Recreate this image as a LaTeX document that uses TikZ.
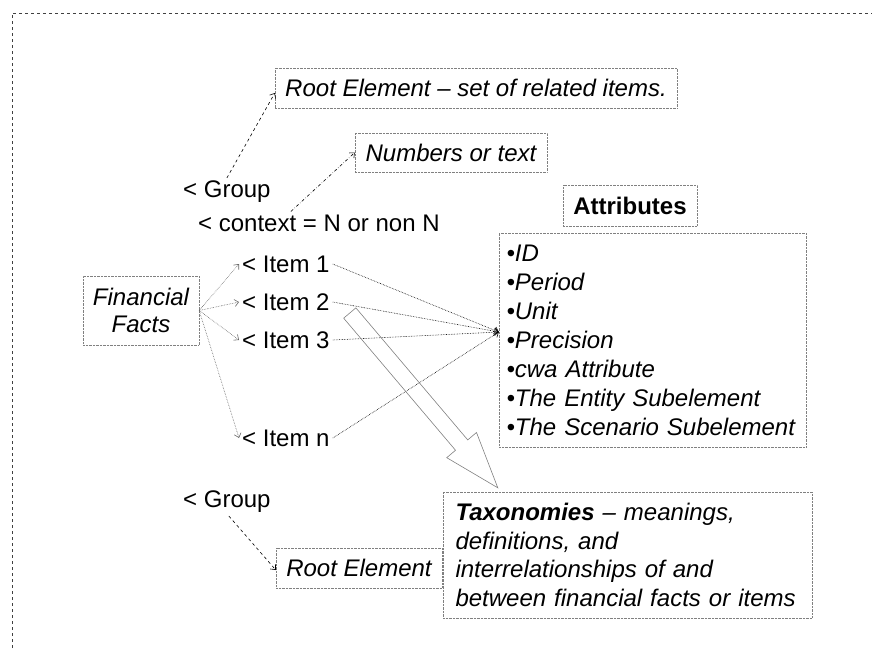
\documentclass[tikz,border=0pt]{standalone}
\usepackage{fontspec}
\setmainfont{Liberation Sans}
\usetikzlibrary{arrows.meta,calc,positioning}
\begin{document}
\begin{tikzpicture}[x=1pt,y=-1pt,>={Straight Barb[length=4pt,width=7pt]},font=\fontsize{24}{29}\selectfont,
  box/.style={draw=gray,densely dotted,inner sep=0pt,font=\fontsize{24}{29}\selectfont\itshape},
  lbl/.style={inner sep=3pt,anchor=west},
  fact/.style={->,draw=gray!80!black,densely dotted,line width=0.6pt},
  attr/.style={->,densely dotted,line width=0.6pt},
  grp/.style={->,dashed,line width=0.6pt}]
\path[use as bounding box] (0,0) rectangle (872,649);
\draw[dashed,draw=black!75,line width=0.8pt] (12,660) -- (12,13) -- (880,13);
\node[box,minimum width=402pt,minimum height=40pt] (rootA) at (476,88) {Root Element -- set of related items.};
\node[box,minimum width=192pt,minimum height=39pt] (numbers) at (451,152.5) {Numbers or text};
\node[lbl] (groupA) at (180,192) {< Group};
\node[lbl] (context) at (195,223) {< context = N or non N};
\node[box,font=\fontsize{24}{29}\selectfont\bfseries,minimum width=134pt,minimum height=41pt] (attrhead) at (630,205.5) {Attributes};
\node[box,text width=292pt,inner xsep=7.5pt,inner ysep=9pt,minimum height=214pt,align=left] (attrs) at (652.5,340)
  {•ID\\•Period\\•Unit\\•Precision\\•cwa Attribute\\•The Entity Subelement\\•The Scenario Subelement};
\node[box,minimum width=116pt,minimum height=69pt,align=center,font=\fontsize{24}{27}\selectfont\itshape] (facts) at (141,310.5) {Financial\\Facts};
\node[lbl] (item1) at (239,264) {< Item 1};
\node[lbl] (item2) at (239,302) {< Item 2};
\node[lbl] (item3) at (239,340) {< Item 3};
\node[lbl] (itemn) at (239,438) {< Item n};
\node[lbl] (groupB) at (180,502) {< Group};
\node[box,minimum width=166pt,minimum height=40pt] (rootB) at (359,568) {Root Element};
\node[box,text width=344pt,inner xsep=12.5pt,minimum height=126pt,align=left,font=\fontsize{24}{28.5}\selectfont\itshape] (tax) at (627.5,555)
  {\textbf{Taxonomies} -- meanings,\\definitions, and\\interrelationships of and\\between financial facts or items};
\draw[grp] (groupA.north) -- ([yshift=-5pt]rootA.west);
\draw[->,dash dot,line width=0.6pt] ([xshift=-28pt]context.north) -- (numbers.west);
\draw[grp] ([xshift=2pt]groupB.south) -- ([yshift=-2pt]rootB.west);
\foreach \i in {item1,item2,item3,itemn}
  \draw[fact] (facts.east) -- (\i.west);
\foreach \i in {item1,item2,item3,itemn}
  \draw[attr] (\i.east) -- ([yshift=8pt]attrs.west);
\coordinate (bs) at ([xshift=17pt,yshift=-11pt]item2.east);
\coordinate (bt) at ([xshift=55pt,yshift=4pt]tax.north west);
\coordinate (hb) at ($(bt)!56pt!(bs)$);
\draw[gray,line width=0.6pt] ($(bs)!8pt!90:(bt)$) -- ($(hb)!8pt!90:(bt)$) -- ($(hb)!19.5pt!90:(bt)$) -- (bt)
  -- ($(hb)!19.5pt!-90:(bt)$) -- ($(hb)!8pt!-90:(bt)$) -- ($(bs)!8pt!-90:(bt)$) -- cycle;
\end{tikzpicture}
\end{document}
